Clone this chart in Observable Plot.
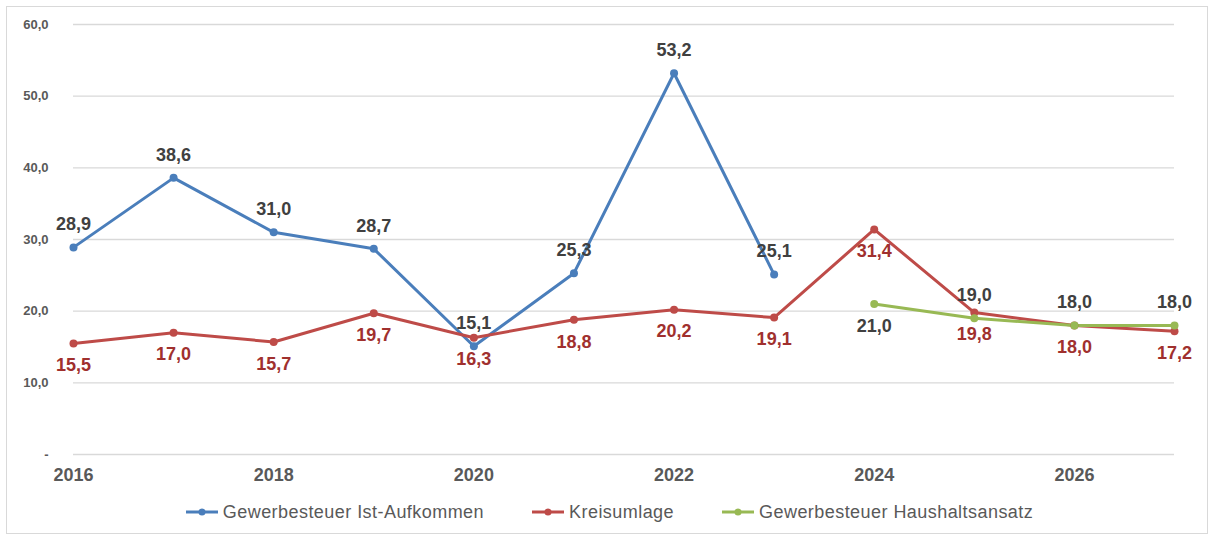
<!DOCTYPE html>
<html>
<head>
<meta charset="utf-8">
<script src="https://cdn.jsdelivr.net/npm/d3@7"></script>
<script src="https://cdn.jsdelivr.net/npm/@observablehq/plot@0.6"></script>
<style>
  html, body { margin: 0; padding: 0; background: #fff; }
  body { width: 1210px; height: 536px; position: relative; overflow: hidden; font-family: "Liberation Sans", Arial, sans-serif; }
  #frame { position: absolute; left: 6px; top: 6px; width: 1202px; height: 528px; border: 1px solid #d9d9d9; box-sizing: border-box; }
  #chart { position: absolute; left: 0; top: 0; }
  #legend { position: absolute; left: 0; top: 499px; width: 1218px; height: 26px; display: flex; justify-content: center; align-items: center; gap: 47px; font-size: 18px; letter-spacing: 0.45px; color: #595959; }
  .item { display: flex; align-items: center; }
  .item svg { margin-right: 4px; }
</style>
</head>
<body>
<div id="frame"></div>
<div id="chart"></div>
<div id="legend"></div>
<script>
const seriesNames = ["Gewerbesteuer Ist-Aufkommen", "Kreisumlage", "Gewerbesteuer Haushaltsansatz"];
const seriesColors = ["#4a7ebb", "#be4b48", "#98b954"];
const labelColors = ["#404040", "#a0302e", "#404040"];

const istYears = [2016, 2017, 2018, 2019, 2020, 2021, 2022, 2023];
const istValues = [28.9, 38.6, 31.0, 28.7, 15.1, 25.3, 53.2, 25.1];

const kreisYears = [2016, 2017, 2018, 2019, 2020, 2021, 2022, 2023, 2024, 2025, 2026, 2027];
const kreisValues = [15.5, 17.0, 15.7, 19.7, 16.3, 18.8, 20.2, 19.1, 31.4, 19.8, 18.0, 17.2];

const ansatzYears = [2024, 2025, 2026, 2027];
const ansatzValues = [21.0, 19.0, 18.0, 18.0];

const yTicks = [0, 10, 20, 30, 40, 50, 60];
const xTicks = [2016, 2018, 2020, 2022, 2024, 2026];

const fmt = v => v === 0 ? "-" : v.toFixed(1).replace(".", ",");

const ist = istYears.map((y, i) => ({year: y, value: istValues[i], s: 0, above: true}));
const kreis = kreisYears.map((y, i) => ({year: y, value: kreisValues[i], s: 1, above: false}));
const ansatz = ansatzYears.map((y, i) => ({year: y, value: ansatzValues[i], s: 2, above: i > 0}));
const all = [...ist, ...kreis, ...ansatz];

const chart = Plot.plot({
  width: 1210,
  height: 496,
  marginLeft: 73,
  marginRight: 36,
  marginTop: 24,
  marginBottom: 42,
  x: {domain: [2016, 2027]},
  y: {domain: [0, 60]},
  style: {fontFamily: "'Liberation Sans', Arial, sans-serif", background: "transparent"},
  marks: [
    Plot.gridY(yTicks, {stroke: "#d9d9d9", strokeOpacity: 1, strokeWidth: 1.3}),
    Plot.axisY(yTicks, {tickSize: 0, tickPadding: 25, tickFormat: fmt, fontSize: 13, fontWeight: "bold", fill: "#595959", label: null}),
    Plot.axisX(xTicks, {tickSize: 0, tickPadding: 14, tickFormat: d => String(d), fontSize: 18, fontWeight: "bold", fill: "#595959", label: null}),
    ...[ist, kreis, ansatz].map((d, i) => Plot.line(d, {x: "year", y: "value", stroke: seriesColors[i], strokeWidth: 3})),
    ...[ist, kreis, ansatz].map((d, i) => Plot.dot(d, {x: "year", y: "value", fill: seriesColors[i], r: 4})),
    ...[0, 1, 2].map(s => Plot.text(all.filter(d => d.s === s && d.above), {x: "year", y: "value", text: d => fmt(d.value), dy: -23, fill: labelColors[s], fontSize: 18, fontWeight: "bold"})),
    ...[0, 1, 2].map(s => Plot.text(all.filter(d => d.s === s && !d.above), {x: "year", y: "value", text: d => fmt(d.value), dy: 22, fill: labelColors[s], fontSize: 18, fontWeight: "bold"}))
  ]
});
document.getElementById("chart").appendChild(chart);

const legend = document.getElementById("legend");
seriesNames.forEach((name, i) => {
  const item = document.createElement("div");
  item.className = "item";
  item.innerHTML = `<svg width="34" height="10"><line x1="1" y1="5" x2="33" y2="5" stroke="${seriesColors[i]}" stroke-width="3"/><circle cx="17" cy="5" r="3.5" fill="${seriesColors[i]}"/></svg><span>${name}</span>`;
  legend.appendChild(item);
});
</script>
</body>
</html>
